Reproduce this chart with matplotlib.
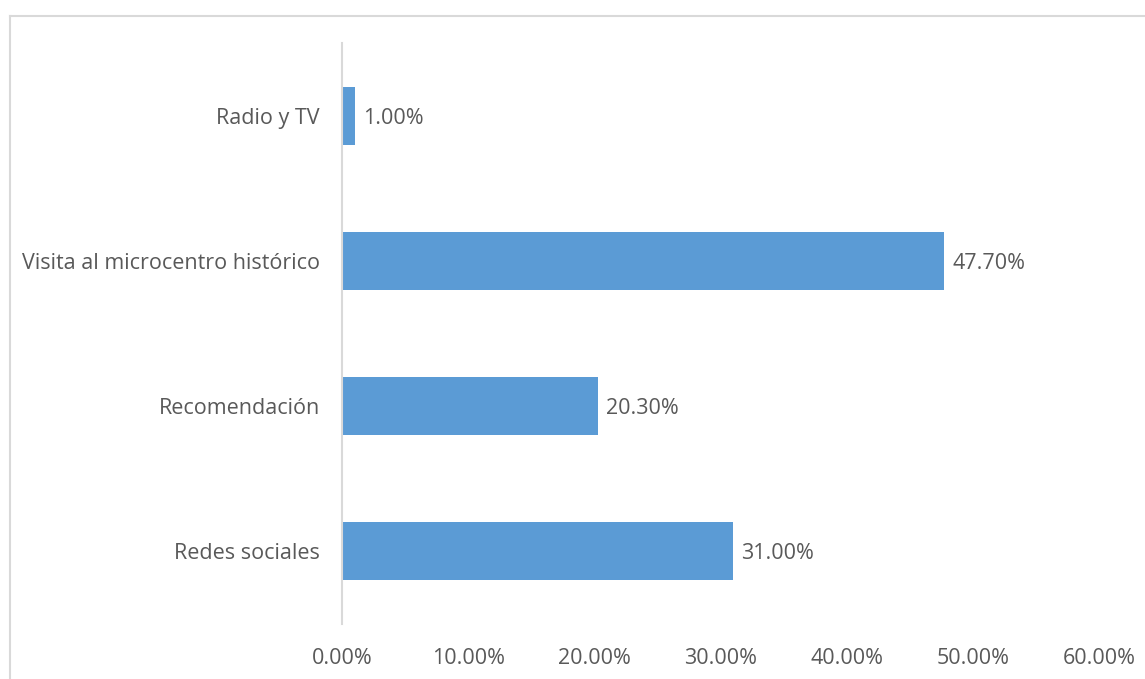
import matplotlib
matplotlib.use("Agg")

import matplotlib.pyplot as plt
from matplotlib.lines import Line2D
from matplotlib.ticker import FuncFormatter

# Data (top to bottom as shown)
categories = ["Redes sociales", "Recomendación", "Visita al microcentro histórico", "Radio y TV"]
values = [31.0, 20.3, 47.7, 1.0]
xticks = [0, 10, 20, 30, 40, 50, 60]

bar_color = "#5B9BD5"
text_color = "#595959"
line_color = "#D9D9D9"

plt.rcParams["font.family"] = ["Open Sans", "DejaVu Sans"]

W, H = 1145, 679
fig = plt.figure(figsize=(W / 100, H / 100), dpi=100)

# Axes placed to match the reference pixels
ax = fig.add_axes([342 / W, 1 - 624 / H, 757 / W, 581 / H])

ypos = range(len(categories))
ax.barh(ypos, values, height=0.4, color=bar_color)

for y, v in zip(ypos, values):
    ax.annotate(
        f"{v:.2f}%",
        xy=(v, y),
        xytext=(6, 0),
        textcoords="offset points",
        va="center_baseline",
        ha="left",
        fontsize=15.5,
        color=text_color,
    )

ax.set_xlim(0, 60)
ax.set_ylim(-0.5, len(categories) - 0.5)
ax.set_yticks(list(ypos))
ax.set_yticklabels(categories)
ax.set_xticks(xticks)
ax.xaxis.set_major_formatter(FuncFormatter(lambda x, p: f"{x:.2f}%"))

ax.tick_params(axis="both", length=0, labelsize=15.5, colors=text_color)
ax.tick_params(axis="y", pad=16)
ax.tick_params(axis="x", pad=17)

for side in ["top", "right", "bottom"]:
    ax.spines[side].set_visible(False)
ax.spines["left"].set_color(line_color)
ax.spines["left"].set_linewidth(1.5)

# Chart area border (only top and left edges fall inside the image)
x0 = 10.5 / W
y0 = 1 - 15.5 / H
fig.add_artist(Line2D([x0, x0], [0, y0], transform=fig.transFigure, color=line_color, lw=1.5))
fig.add_artist(Line2D([x0, 1], [y0, y0], transform=fig.transFigure, color=line_color, lw=1.5))

fig.savefig("out.png", dpi=100, facecolor="white")
